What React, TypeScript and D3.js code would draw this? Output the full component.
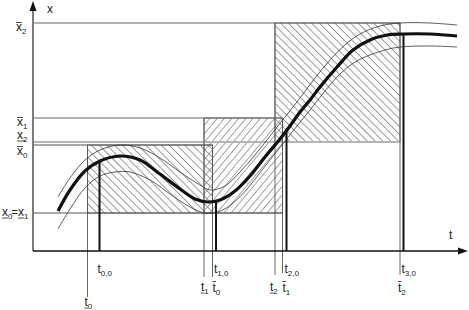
import React from "react";
import * as d3 from "d3";

const W = 469;
const H = 310;

// Main trajectory x(t) (time units, state units)
const curveT = [25, 37, 52, 67, 87, 107, 127, 147, 162, 175, 187, 202, 217, 232, 247, 257, 267, 277, 287, 304, 320, 337, 354, 370, 397, 424];
const curveX = [40, 61, 80, 90, 95, 91, 77, 62, 52, 49, 51, 60, 75, 94, 112, 125, 139, 151, 164, 184, 201, 211, 216, 217, 217, 215];

// Upper envelope
const upperT = [25, 37, 52, 67, 87, 107, 127, 147, 167, 177, 192, 207, 222, 237, 252, 267, 282, 297, 312, 327, 347, 367, 397, 424];
const upperX = [54, 73, 91, 101, 106, 103, 93, 79, 66, 61, 65, 79, 96, 115, 134, 153, 173, 191, 206, 217, 225, 228, 228, 226];

// Lower envelope
const lowerT = [25, 37, 52, 67, 82, 97, 117, 137, 157, 172, 185, 199, 215, 229, 245, 260, 277, 292, 307, 322, 337, 352, 367, 397, 424];
const lowerX = [22, 42, 63, 75, 79, 79, 71, 57, 44, 38, 39, 47, 63, 81, 101, 120, 141, 160, 177, 189, 196, 201, 204, 205, 204];

// Boxes [t_lower, t_upper] x [x_lower, x_upper]
const boxTLow = [54.5, 171, 242];
const boxTHigh = [179.5, 249.5, 367];
const boxXLow = [38, 38, 109];
const boxXHigh = [106, 133, 228];
const boxHatch = ["back", "fwd", "back"];

// Switching times t_{k,0} and state at those times
const switchT = [66.5, 183, 253.5, 370.5];
const switchX = [90, 50, 121, 217];
const switchLabels = ["0,0", "1,0", "2,0", "3,0"];

const tScale = d3.scaleLinear().domain([0, 434]).range([33, 467]);
const xScale = d3.scaleLinear().domain([0, 250]).range([251, 1]);

const FONT = "'Liberation Sans', Arial, sans-serif";
const TXT = "#222";

type SymProps = { x: number; y: number; base: string; sub: string; mark?: "over" | "under" | "none"; bw: number };

function Sym({ x, y, base, sub, mark = "none", bw }: SymProps) {
  const off = base === "t" ? 10.5 : 8.5;
  return (
    <g>
      <text x={x} y={y} fontFamily={FONT} fontSize={12} fill={TXT}>
        {base}
        <tspan dy={2.5} fontSize={8}>{sub}</tspan>
      </text>
      {mark === "over" && <line x1={x} x2={x + bw} y1={y - off} y2={y - off} stroke={TXT} strokeWidth={0.8} />}
      {mark === "under" && <line x1={x} x2={x + bw} y1={y + 2} y2={y + 2} stroke={TXT} strokeWidth={0.8} />}
    </g>
  );
}

export default function App() {
  const pts = (T: number[], X: number[]) => T.map((t, i) => [tScale(t), xScale(X[i])] as [number, number]);
  const line = d3.line<[number, number]>().curve(d3.curveCatmullRom.alpha(0.5));
  const mainPath = line(pts(curveT, curveX)) || "";
  const upPath = line(pts(upperT, upperX)) || "";
  const loPath = line(pts(lowerT, lowerX)) || "";

  const y0 = xScale(0);
  const xAxisLeft = tScale(0);
  const guide = "#555";

  const hGuides: { v: number; tEnd: number; stroke: string; w: number }[] = [
    { v: boxXHigh[2], tEnd: boxTHigh[2], stroke: "#666", w: 1 },
    { v: boxXHigh[1], tEnd: boxTHigh[1], stroke: "#666", w: 1 },
    { v: boxXLow[2], tEnd: boxTHigh[2], stroke: "#b4b4b4", w: 2.2 },
    { v: boxXHigh[0], tEnd: boxTHigh[0], stroke: "#555", w: 1 },
    { v: boxXLow[0], tEnd: boxTHigh[1], stroke: "#555", w: 1 },
  ];

  const vGuides: { t: number; top: number; bottom: number }[] = [
    { t: boxTLow[0], top: boxXHigh[0], bottom: 297 },
    { t: boxTHigh[0], top: boxXHigh[0], bottom: 277 },
    { t: boxTLow[1], top: boxXHigh[1], bottom: 277 },
    { t: boxTHigh[1], top: boxXHigh[1], bottom: 273 },
    { t: boxTLow[2], top: boxXHigh[2], bottom: 275 },
    { t: boxTHigh[2], top: boxXHigh[2], bottom: 275 },
  ];

  return (
    <svg width={W} height={H} style={{ position: "absolute", left: 0, top: 0, background: "#fff" }}>
      <defs>
        <pattern id="hatchBack" patternUnits="userSpaceOnUse" width={5.5} height={5.5} patternTransform="rotate(-45)">
          <line x1={0} y1={0} x2={0} y2={5.5} stroke="#7c7c7c" strokeWidth={1.5} />
        </pattern>
        <pattern id="hatchFwd" patternUnits="userSpaceOnUse" width={5.5} height={5.5} patternTransform="rotate(40)">
          <line x1={0} y1={0} x2={0} y2={5.5} stroke="#808080" strokeWidth={1.4} />
        </pattern>
      </defs>
      <rect x={0} y={0} width={W} height={H} fill="#fff" />

      {boxTLow.map((t, i) => (
        <rect
          key={"b" + i}
          x={tScale(t)}
          y={xScale(boxXHigh[i])}
          width={tScale(boxTHigh[i]) - tScale(t)}
          height={xScale(boxXLow[i]) - xScale(boxXHigh[i])}
          fill={boxHatch[i] === "back" ? "url(#hatchBack)" : "url(#hatchFwd)"}
          stroke="#555"
          strokeWidth={0.8}
        />
      ))}

      {hGuides.map((g, i) => (
        <line key={"h" + i} x1={xAxisLeft} x2={tScale(g.tEnd)} y1={xScale(g.v)} y2={xScale(g.v)} stroke={g.stroke} strokeWidth={g.w} />
      ))}

      {vGuides.map((g, i) => (
        <line key={"v" + i} x1={tScale(g.t)} x2={tScale(g.t)} y1={xScale(g.top)} y2={g.bottom} stroke={guide} strokeWidth={0.9} />
      ))}

      <path d={upPath} fill="none" stroke="#333" strokeWidth={0.8} />
      <path d={loPath} fill="none" stroke="#333" strokeWidth={0.8} />

      <path d={mainPath} fill="none" stroke="#111" strokeWidth={3.2} strokeLinecap="butt" />

      {switchT.map((t, i) => (
        <line key={"s" + i} x1={tScale(t)} x2={tScale(t)} y1={xScale(switchX[i])} y2={y0} stroke="#111" strokeWidth={2} />
      ))}

      <line x1={xAxisLeft} x2={xAxisLeft} y1={9} y2={y0} stroke="#7a7a7a" strokeWidth={2} />
      <polygon points={`${xAxisLeft},1 ${xAxisLeft - 3.5},11 ${xAxisLeft + 3.5},11`} fill="#111" />
      <line x1={xAxisLeft} x2={459} y1={y0} y2={y0} stroke="#111" strokeWidth={1.5} />
      <polygon points={`468,${y0} 458,${y0 - 3.5} 458,${y0 + 3.5}`} fill="#111" />

      <text x={47} y={13} fontFamily={FONT} fontSize={12} fill={TXT}>x</text>
      <text x={449} y={239} fontFamily={FONT} fontSize={12} fill={TXT}>t</text>

      <Sym x={16} y={31} base="x" sub="2" mark="over" bw={6} />
      <Sym x={17} y={126} base="x" sub="1" mark="over" bw={6} />
      <Sym x={17} y={139} base="x" sub="2" mark="under" bw={9} />
      <Sym x={17} y={155} base="x" sub="0" mark="over" bw={6} />
      <Sym x={2} y={216} base="x" sub="0" mark="under" bw={6} />
      <text x={11.5} y={216} fontFamily={FONT} fontSize={11} fill={TXT}>=</text>
      <Sym x={18} y={216} base="x" sub="1" mark="under" bw={6} />

      {switchT.map((t, i) => (
        <Sym key={"sl" + i} x={tScale(t) - 2} y={273} base="t" sub={switchLabels[i]} bw={3.3} />
      ))}

      <Sym x={tScale(boxTLow[0]) - 3} y={306} base="t" sub="0" mark="under" bw={3.5} />
      <Sym x={tScale(boxTLow[1]) - 3} y={291} base="t" sub="1" mark="under" bw={3.5} />
      <Sym x={tScale(boxTHigh[0])} y={292} base="t" sub="0" mark="over" bw={3.5} />
      <Sym x={tScale(boxTLow[2]) - 5} y={291} base="t" sub="2" mark="under" bw={3.5} />
      <Sym x={tScale(boxTHigh[1])} y={292} base="t" sub="1" mark="over" bw={3.5} />
      <Sym x={tScale(boxTHigh[2]) - 2} y={292} base="t" sub="2" mark="over" bw={3.5} />
    </svg>
  );
}
